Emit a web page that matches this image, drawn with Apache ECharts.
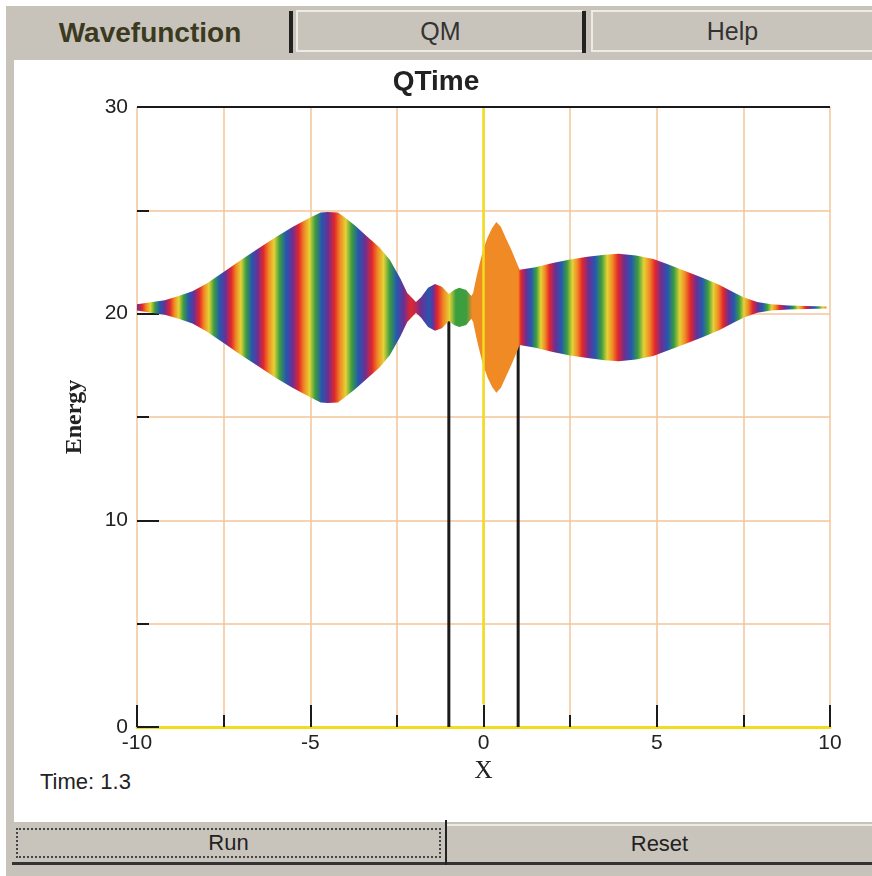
<!DOCTYPE html>
<html><head><meta charset="utf-8">
<script src="https://cdn.jsdelivr.net/npm/echarts@6/dist/echarts.min.js"></script>
<style>
html,body{margin:0;padding:0;}
body{width:872px;height:876px;position:relative;overflow:hidden;background:#fff;font-family:"Liberation Sans",Arial,sans-serif;}
.abs{position:absolute;box-sizing:border-box;}
.tab{display:flex;align-items:center;justify-content:center;color:#333;font-size:25px;}
.raised{background:#c9c4bb;border-top:2px solid #eeebe5;border-left:2px solid #eeebe5;border-bottom:2px solid #eeebe5;}
.sep{background:#222;}
.btn{display:flex;align-items:center;justify-content:center;color:#222;font-size:22px;background:#c9c4bb;}
</style></head><body>
<div class="abs" style="left:6px;top:6px;width:866px;height:870px;background:#c8c3ba;"></div>
<div class="abs" style="left:14px;top:60px;width:858px;height:762px;background:#fff;"></div>
<div class="abs tab" style="left:10px;top:8px;width:280px;height:50px;font-weight:bold;font-size:28px;color:#3a3a20;">Wavefunction</div>
<div class="abs sep" style="left:289px;top:11px;width:4px;height:42px;"></div>
<div class="abs tab raised" style="left:296px;top:10px;width:287px;height:42px;">QM</div>
<div class="abs sep" style="left:582px;top:11px;width:4px;height:42px;"></div>
<div class="abs tab raised" style="left:591px;top:10px;width:281px;height:42px;">Help</div>
<div class="abs" id="timeText" style="left:40px;top:769px;font-size:22px;color:#222;"></div>
<div class="abs btn" style="left:12px;top:824px;width:433px;height:41px;border-bottom:3px solid #333;"><div class="abs" style="left:4px;top:4px;right:4px;bottom:4px;border:2px dotted #444;"></div>Run</div>
<div class="abs sep" style="left:445px;top:820px;width:2px;height:45px;"></div>
<div class="abs btn" style="left:447px;top:824px;width:425px;height:41px;border-top:2px solid #eeebe5;border-bottom:3px solid #333;">Reset</div>
<div id="chart" class="abs" style="left:0;top:0;width:872px;height:876px;"></div>
<script>
// ---- data ----
const titleText = 'QTime';
const timeValue = 1.3;
const xTicks = [-10, -5, 0, 5, 10];
const yTicks = [0, 10, 20, 30];
const waveEnergy = 20.3;
const envX = [-10, -9.6, -9.2, -8.8, -8.4, -8.0, -7.5, -7.0, -6.5, -6.0, -5.5, -5.0, -4.7, -4.5, -4.2, -4.0, -3.7, -3.4, -3.0, -2.7, -2.4, -2.2, -1.95, -1.8, -1.6, -1.4, -1.2, -1.0, -0.85, -0.7, -0.5, -0.35, -0.3, -0.2, -0.1, 0.0, 0.12, 0.25, 0.37, 0.5, 0.66, 0.8, 0.95, 1.04, 1.5, 2.0, 2.5, 3.0, 3.5, 3.9, 4.4, 4.9, 5.3, 5.8, 6.3, 6.8, 7.2, 7.5, 7.9, 8.3, 8.8, 9.3, 9.9];
const envHalf = [0.15, 0.25, 0.35, 0.55, 0.78, 1.15, 1.72, 2.3, 2.85, 3.4, 3.9, 4.35, 4.6, 4.62, 4.6, 4.35, 3.95, 3.5, 2.9, 2.3, 1.4, 0.7, 0.26, 0.5, 0.95, 1.13, 1.0, 0.65, 0.85, 0.95, 0.85, 0.55, 0.7, 1.5, 2.2, 2.85, 3.4, 3.85, 4.13, 3.9, 3.3, 2.8, 2.2, 1.82, 1.95, 2.15, 2.32, 2.45, 2.55, 2.6, 2.52, 2.35, 2.1, 1.78, 1.45, 1.1, 0.75, 0.5, 0.26, 0.15, 0.1, 0.07, 0.05];
const leftRedX = [-9.85, -9.05, -8.2, -7.28, -6.35, -5.33, -4.3, -3.22, -2.1];
const midStops = [[-1.95, 'redPurple'], [-1.8, 'purple'], [-1.56, 'blue'], [-1.45, 'purple'], [-1.33, 'red'], [-1.15, 'orange'], [-0.98, 'yellow'], [-0.8, 'green'], [-0.5, 'green'], [-0.32, 'orange'], [1.0, 'orange']];
const rightRedX = [1.08, 1.9, 2.85, 3.88, 4.95, 5.97, 6.92, 7.77, 8.55, 9.3, 10.0];
const barrierX = [-1, 1];
const barrierTop = [20, 20];

// ---- colours ----
const hue = {red:'#e3262b', redPurple:'#b02a5a', orange:'#f08a24', yellow:'#e4d236', green:'#3b9e3f', blue:'#2557b0', purple:'#6b2f94'};
const cycleUp = [['red',0],['orange',0.15],['yellow',0.3],['green',0.46],['blue',0.64],['purple',0.82]];
const cycleDown = [['red',0],['purple',0.18],['blue',0.36],['green',0.54],['yellow',0.7],['orange',0.85]];
function cycles(reds, cyc){
  const out = [];
  for (let i = 0; i < reds.length - 1; i++) {
    const a = reds[i], b = reds[i+1];
    cyc.forEach(([c, f]) => out.push([a + (b - a) * f, hue[c]]));
  }
  out.push([reds[reds.length-1], hue.red]);
  return out;
}
function buildStops(){
  return [[-10, hue.purple]]
    .concat(cycles(leftRedX, cycleUp))
    .concat(midStops.map(s => [s[0], hue[s[1]]]))
    .concat(cycles(rightRedX, cycleDown));
}

document.getElementById('timeText').textContent = 'Time: ' + timeValue;

const chart = echarts.init(document.getElementById('chart'), null, {renderer:'canvas'});
const gridColor = '#f3c59a';
const tickStyle = {color:'#1a1a1a', width:2};
const labelFont = {color:'#222', fontSize:21, fontFamily:'"Liberation Sans", Arial, sans-serif'};

const series = [];
barrierX.forEach((bx, i) => {
  series.push({type:'line', z:2, silent:true, symbol:'none', animation:false,
    lineStyle:{color:'#1a1a1a', width:3},
    data:[[bx, 0], [bx, barrierTop[i]]]});
});
series.push({type:'line', z:1, silent:true, symbol:'none', data:[], animation:false,
  markLine:{silent:true, symbol:'none', animation:false, label:{show:false},
    data:[
      [{coord:[0, 1.1], lineStyle:{color:'#f2dc1e', width:2.5, type:'solid'}}, {coord:[0, 30]}],
      [{coord:[-10, 30], lineStyle:{color:'#1a1a1a', width:2, type:'solid'}}, {coord:[10, 30]}]
    ]}});
series.push({type:'custom', z:3, silent:true, animation:false, clip:true,
  data:[[0, waveEnergy]],
  renderItem: function(params, api){
    const pts = [];
    for (let i = 0; i < envX.length; i++) pts.push(api.coord([envX[i], waveEnergy + envHalf[i]]));
    for (let i = envX.length - 1; i >= 0; i--) pts.push(api.coord([envX[i], waveEnergy - envHalf[i]]));
    const p0 = api.coord([-10, waveEnergy])[0], p1 = api.coord([10, waveEnergy])[0];
    const stops = buildStops().map(s => ({offset: Math.min(1, Math.max(0, (api.coord([s[0], waveEnergy])[0] - p0) / (p1 - p0))), color: s[1]}));
    return {type:'polygon', shape:{points:pts},
      style:{fill:{type:'linear', x:p0, y:0, x2:p1, y2:0, global:true, colorStops:stops}}};
  }});

chart.setOption({
  animation:false,
  title:{text:titleText, left:'center', top:63, textStyle:{fontSize:28, fontWeight:'bold', color:'#222', fontFamily:'"Liberation Sans", Arial, sans-serif'}},
  grid:{left:137, right:42, top:107, bottom:149},
  xAxis:{type:'value', min:xTicks[0], max:xTicks[xTicks.length-1], interval:5,
    name:'X', nameLocation:'middle', nameGap:24,
    nameTextStyle:{fontSize:25, color:'#222', fontFamily:'"Liberation Serif", "Times New Roman", serif'},
    axisLine:{show:true, onZero:false, lineStyle:{color:'#f2dc1e', width:3}},
    axisTick:{show:true, inside:true, length:22, lineStyle:tickStyle},
    minorTick:{show:true, splitNumber:2, length:12, lineStyle:tickStyle},
    axisLabel:Object.assign({margin:6, formatter:v => xTicks.indexOf(v) >= 0 ? String(v) : ''}, labelFont),
    splitLine:{show:true, lineStyle:{color:gridColor, width:1.5}},
    minorSplitLine:{show:true, lineStyle:{color:gridColor, width:1.5}}
  },
  yAxis:{type:'value', min:yTicks[0], max:yTicks[yTicks.length-1], interval:10,
    name:'Energy', nameLocation:'middle', nameGap:50,
    nameTextStyle:{fontSize:24, fontWeight:'bold', color:'#222', fontFamily:'"Liberation Serif", "Times New Roman", serif'},
    axisLine:{show:false, onZero:false},
    axisTick:{show:true, inside:true, length:22, lineStyle:tickStyle},
    minorTick:{show:true, splitNumber:2, length:12, lineStyle:tickStyle},
    axisLabel:Object.assign({margin:9, formatter:v => yTicks.indexOf(v) >= 0 ? String(v) : ''}, labelFont),
    splitLine:{show:true, lineStyle:{color:gridColor, width:1.5}},
    minorSplitLine:{show:true, lineStyle:{color:gridColor, width:1.5}}
  },
  series:series
});
</script>
</body></html>
